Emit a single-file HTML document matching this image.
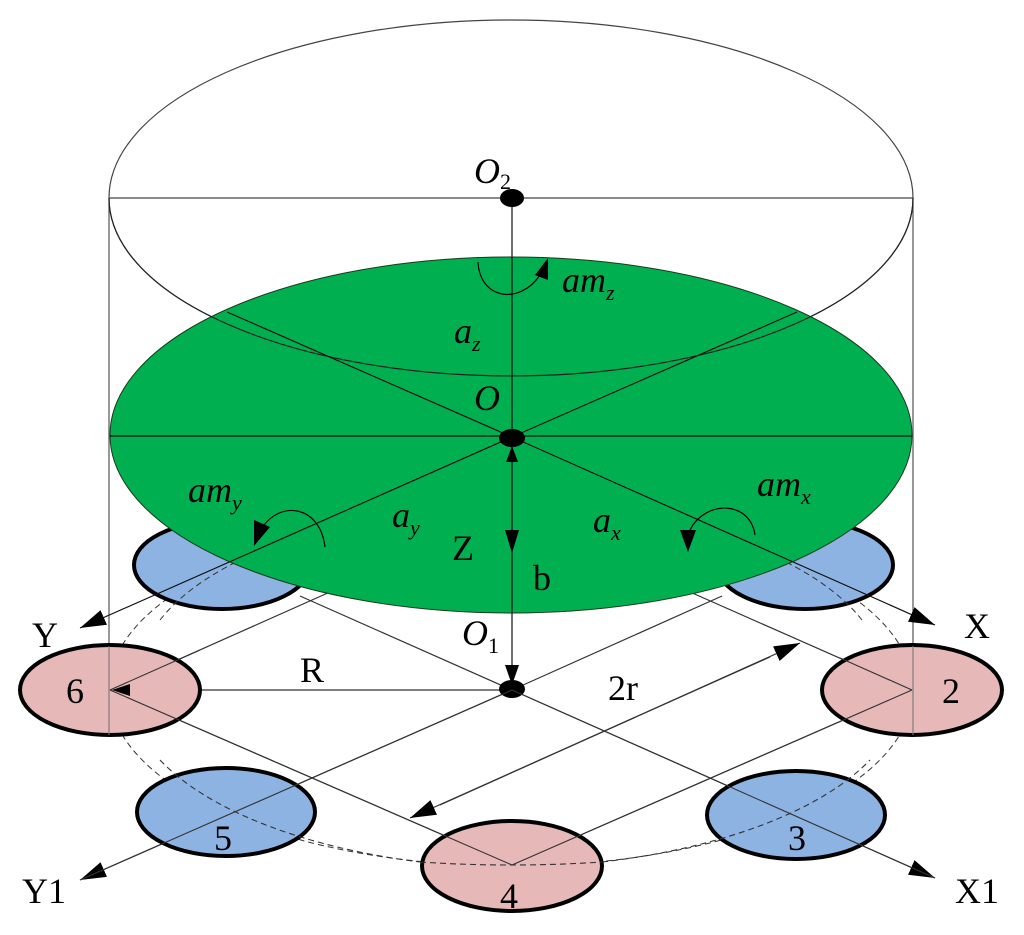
<!DOCTYPE html>
<html><head><style>html,body{margin:0;padding:0;background:#fff}svg{display:block}</style></head>
<body>
<svg width="1024" height="935" viewBox="0 0 1024 935" xmlns="http://www.w3.org/2000/svg" font-family="'Liberation Serif', serif">
<defs>
<marker id="ab" viewBox="0 0 10 10" refX="10" refY="5" markerWidth="26" markerHeight="16" markerUnits="userSpaceOnUse" orient="auto" preserveAspectRatio="none"><path d="M0,0 L10,5 L0,10 z" fill="#000"/></marker>
</defs>
<ellipse cx="511" cy="198" rx="402" ry="178" fill="none" stroke="#444" stroke-width="1.2"/>
<line x1="109" y1="198" x2="913" y2="198" stroke="#444" stroke-width="1.2"/>
<line x1="109" y1="198" x2="109" y2="690" stroke="#555" stroke-width="1.2"/>
<line x1="913" y1="198" x2="913" y2="690" stroke="#555" stroke-width="1.2"/>
<ellipse cx="511" cy="690" rx="402" ry="176" fill="none" stroke="#333" stroke-width="1" stroke-dasharray="6,4"/>
<ellipse cx="222" cy="565" rx="88" ry="44" fill="#8db3e2" stroke="#000" stroke-width="4"/>
<ellipse cx="805" cy="565" rx="88" ry="44" fill="#8db3e2" stroke="#000" stroke-width="4"/>
<path d="M160,620 A402,176 0 0 1 240,560" fill="none" stroke="#333" stroke-dasharray="6,4"/>
<path d="M862,620 A402,176 0 0 0 782,560" fill="none" stroke="#333" stroke-dasharray="6,4"/>
<g stroke="#333" stroke-width="1.2" fill="none">
<line x1="300" y1="596" x2="512" y2="690"/>
<line x1="512" y1="690" x2="935" y2="878" marker-end="url(#ab)"/>
<line x1="722" y1="596" x2="512" y2="690"/>
<line x1="512" y1="690" x2="80" y2="880" marker-end="url(#ab)"/>
<line x1="110" y1="690" x2="512" y2="865"/>
<line x1="512" y1="865" x2="912" y2="690"/>
<line x1="110" y1="690" x2="330" y2="592"/>
<line x1="912" y1="690" x2="690" y2="592"/>
</g>
<ellipse cx="511" cy="435" rx="401" ry="178" fill="#00b050" stroke="#1a3a1a" stroke-width="1"/>
<path d="M109,198 A402,178 0 0 0 913,198" fill="none" stroke="#222" stroke-width="1.2"/>
<g stroke="#111" stroke-width="1.2" fill="none">
<line x1="110" y1="436" x2="912" y2="436"/>
<line x1="227" y1="312" x2="512" y2="437"/>
<line x1="512" y1="437" x2="935" y2="625" marker-end="url(#ab)"/>
<line x1="797" y1="312" x2="512" y2="437"/>
<line x1="512" y1="437" x2="80" y2="628" marker-end="url(#ab)"/>
<line x1="512" y1="198" x2="512" y2="690"/>
</g>
<g stroke="#333" stroke-width="1.2">
<line x1="440" y1="805" x2="800" y2="643" marker-end="url(#ab)"/>
<line x1="770" y1="657" x2="410" y2="818" marker-end="url(#ab)"/>
<line x1="500" y1="690" x2="110" y2="690" marker-end="url(#ab)"/>
</g>
<path d="M506,462 L518,462 L512,446 z" fill="#000"/>
<path d="M505,530 L519,530 L512,553 z" fill="#000"/>
<path d="M505,665 L519,665 L512,685 z" fill="#000"/>
<ellipse cx="512" cy="198" rx="12" ry="9" fill="#000"/>
<ellipse cx="512" cy="438" rx="13" ry="9" fill="#000"/>
<ellipse cx="512" cy="689" rx="13" ry="9" fill="#000"/>
<g fill="none" stroke="#000" stroke-width="1.2">
<path d="M478,262 C480,300 520,305 540,275"/>
<path d="M325,547 C320,505 280,500 262,528"/>
<path d="M755,535 C750,500 705,500 690,530"/>
</g>
<path d="M535,275 L548,280 L548,258 z" fill="#000"/>
<path d="M254,546 L270,527 L254,520 z" fill="#000"/>
<path d="M680,530 L696,530 L688,552 z" fill="#000"/>
<g stroke="#000" stroke-width="4">
<ellipse cx="226" cy="812" rx="89" ry="44" fill="#8db3e2"/>
<ellipse cx="796" cy="815" rx="89" ry="44" fill="#8db3e2"/>
<ellipse cx="110" cy="690" rx="90" ry="45" fill="#e6b8b7"/>
<ellipse cx="912" cy="690" rx="90" ry="45" fill="#e6b8b7"/>
<ellipse cx="512" cy="866" rx="90" ry="45" fill="#e6b8b7"/>
</g>
<g stroke="#333" stroke-width="1.1" fill="none">
<path d="M160,760 A402,176 0 0 0 420,862" stroke-dasharray="6,4"/>
<path d="M602,862 A402,176 0 0 0 870,760" stroke-dasharray="6,4"/>
<path d="M109,646 L109,735" stroke="#777"/>
<path d="M913,646 L913,735" stroke="#777"/>
<line x1="110" y1="690" x2="512" y2="865"/>
<line x1="512" y1="865" x2="912" y2="690"/>
<line x1="110" y1="690" x2="200" y2="650"/>
<line x1="912" y1="690" x2="840" y2="658"/>
<line x1="512" y1="690" x2="80" y2="880"/>
<line x1="512" y1="690" x2="935" y2="878"/>
<path d="M420,862 Q512,868 602,862" stroke-dasharray="6,4"/>
</g>
<path d="M130,684 L130,696 L112,690 z" fill="#000"/>
<g font-size="36" fill="#000">
<text x="474" y="183" font-style="italic">O<tspan font-size="22" dy="6" font-style="normal">2</tspan></text>
<text x="562" y="292" font-style="italic">am<tspan font-size="22" dy="8">z</tspan></text>
<text x="454" y="343" font-style="italic">a<tspan font-size="22" dy="8">z</tspan></text>
<text x="474" y="410" font-style="italic">O</text>
<text x="188" y="502" font-style="italic">am<tspan font-size="22" dy="8">y</tspan></text>
<text x="392" y="527" font-style="italic">a<tspan font-size="22" dy="8">y</tspan></text>
<text x="593" y="532" font-style="italic">a<tspan font-size="22" dy="8">x</tspan></text>
<text x="757" y="496" font-style="italic">am<tspan font-size="22" dy="8">x</tspan></text>
<text x="452" y="560">Z</text>
<text x="533" y="590">b</text>
<text x="462" y="645" font-style="italic">O<tspan font-size="22" dy="8" font-style="normal">1</tspan></text>
<text x="300" y="682">R</text>
<text x="608" y="700">2r</text>
<text x="32" y="647">Y</text>
<text x="964" y="638">X</text>
<text x="22" y="903">Y1</text>
<text x="955" y="903">X1</text>
<text x="66" y="703">6</text>
<text x="942" y="703">2</text>
<text x="214" y="850">5</text>
<text x="788" y="850">3</text>
<text x="500" y="908">4</text>
</g>
</svg>
</body></html>
